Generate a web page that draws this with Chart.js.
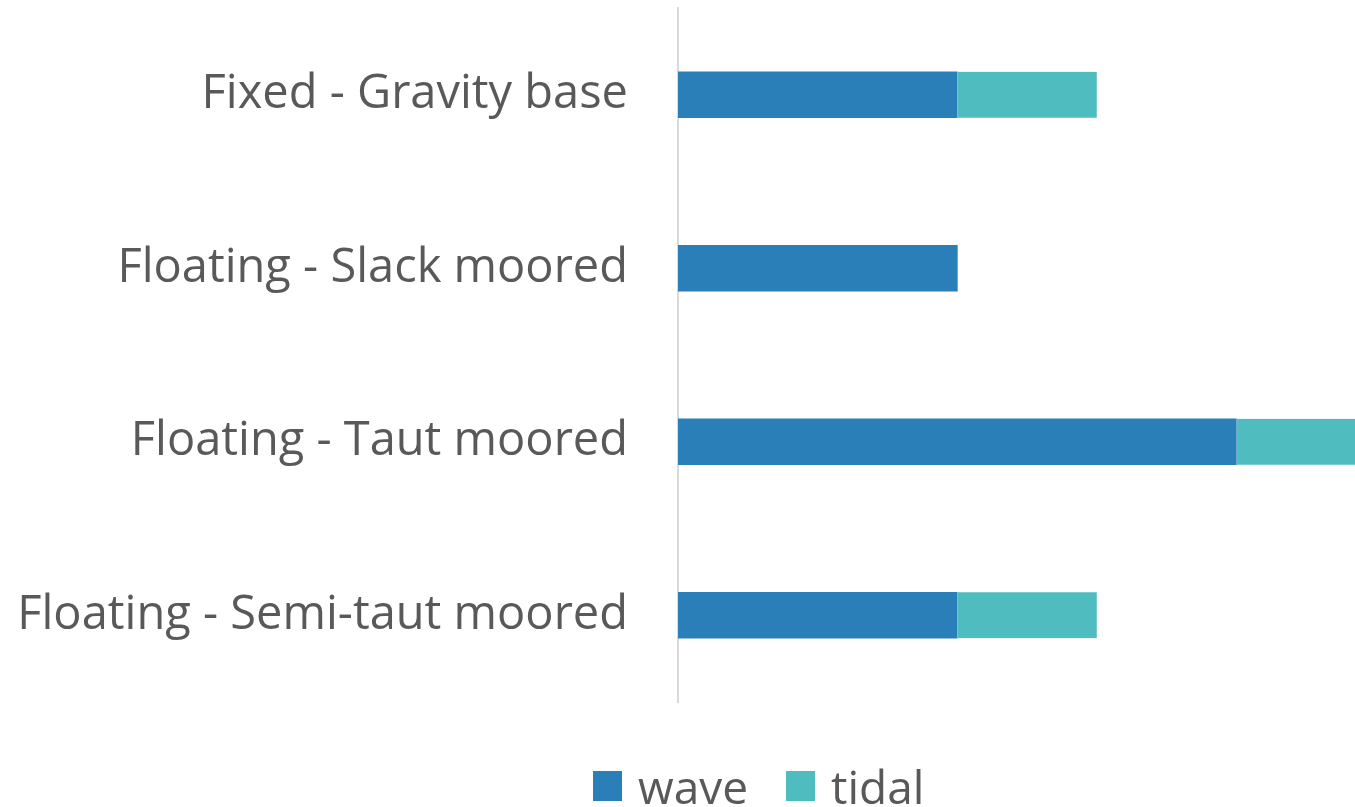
<!DOCTYPE html>
<html>
<head>
<meta charset="utf-8">
<script src="https://cdn.jsdelivr.net/npm/chart.js@4/dist/chart.umd.min.js"></script>
<style>
  html, body { margin: 0; padding: 0; background: #ffffff; }
  #wrap { position: relative; width: 1355px; height: 807px; }
  #legend { position: absolute; top: 755px; left: 593px; display: flex; align-items: center;
            font-family: "Open Sans", sans-serif; font-size: 46px; color: #595959; white-space: nowrap; }
  #legend .item { display: flex; align-items: center; margin-right: 38px; }
  #legend .sw { width: 29px; height: 30px; margin-right: 16px; }
</style>
</head>
<body>
<div id="wrap">
  <canvas id="c" width="1355" height="807"></canvas>
  <div id="legend"></div>
</div>
<script>
// Mooring / foundation types, listed top to bottom
const categories = [
  'Fixed - Gravity base',
  'Floating - Slack moored',
  'Floating - Taut moored',
  'Floating - Semi-taut moored'
];
const seriesNames = ['wave', 'tidal'];
const waveValues = [2, 2, 4, 2];
const tidalValues = [1, 0, 0.85, 1];
const seriesColors = ['#2B7FB8', '#4FBDC0'];

const datasets = [waveValues, tidalValues].map((vals, i) => ({
  label: seriesNames[i],
  data: vals,
  backgroundColor: seriesColors[i],
  borderColor: '#ffffff',
  borderWidth: i === 1 ? { left: 1, right: 0, top: 0, bottom: 0 } : 0,
  borderSkipped: false,
  barThickness: 46
}));

const chart = new Chart(document.getElementById('c'), {
  type: 'bar',
  data: { labels: categories, datasets },
  options: {
    indexAxis: 'y',
    responsive: false,
    animation: false,
    layout: { padding: { top: 8, bottom: 105, left: 0, right: 0 } },
    plugins: { legend: { display: false }, tooltip: { enabled: false } },
    scales: {
      x: {
        stacked: true,
        display: false,
        min: 0,
        max: 4.85
      },
      y: {
        stacked: true,
        grid: { display: false, drawTicks: false },
        border: { display: true, color: '#d9d9d9', width: 2 },
        ticks: {
          padding: 50,
          color: '#595959',
          font: { family: '"Open Sans", sans-serif', size: 47 }
        },
        afterFit: (scale) => {
          scale.width = 678;
          scale.paddingTop = 0;
          scale.paddingBottom = 0;
        }
      }
    }
  }
});

// Legend built from the same series definitions
const legend = document.getElementById('legend');
seriesNames.forEach((name, i) => {
  const item = document.createElement('div');
  item.className = 'item';
  const sw = document.createElement('div');
  sw.className = 'sw';
  sw.style.background = seriesColors[i];
  const txt = document.createElement('span');
  txt.textContent = name;
  item.appendChild(sw);
  item.appendChild(txt);
  legend.appendChild(item);
});
</script>
</body>
</html>
